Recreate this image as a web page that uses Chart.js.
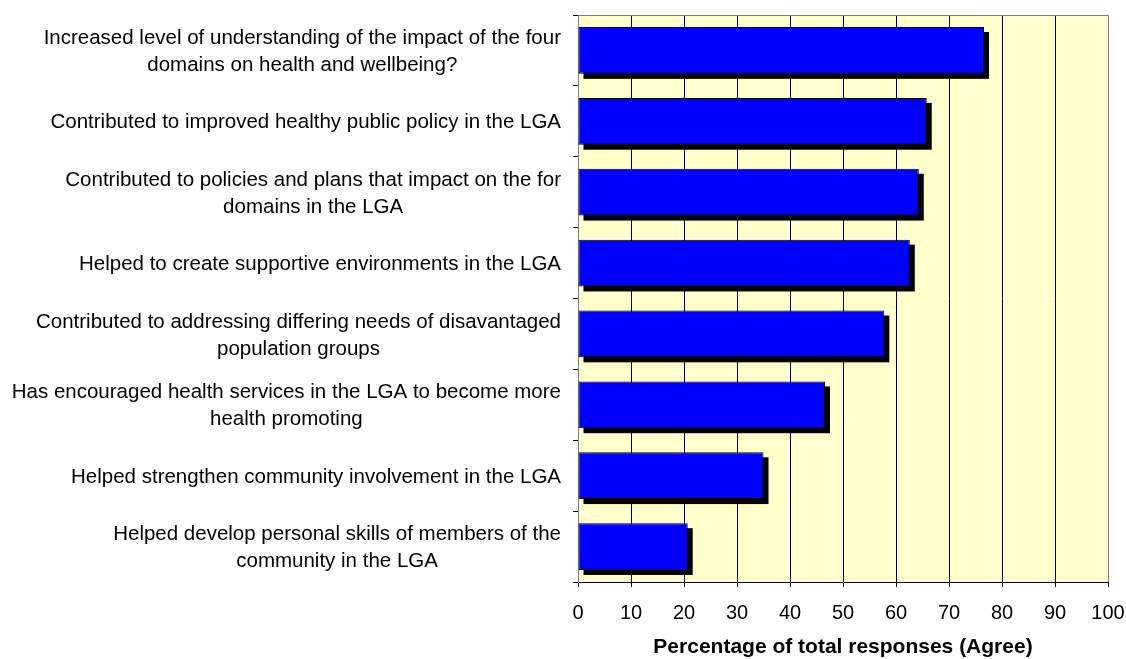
<!DOCTYPE html>
<html>
<head>
<meta charset="utf-8">
<title>Percentage of total responses (Agree)</title>
<script src="https://cdn.jsdelivr.net/npm/chart.js@4.4.1/dist/chart.umd.min.js"></script>
<style>
    html, body { margin: 0; padding: 0; background: #fff; }
    #wrap { width: 1126px; height: 659px; }
</style>
</head>
<body>
<div id="wrap"><canvas id="agreeChart" width="1126" height="659"></canvas></div>
<script>
// Categories (one entry per line of the label)
const categories = [
    ['Increased level of understanding of the impact of the four', 'domains on health and wellbeing?'],
    ['Contributed to improved healthy public policy in the LGA'],
    ['Contributed to policies and plans that impact on the for', 'domains in the LGA'],
    ['Helped to create supportive environments in the LGA'],
    ['Contributed to addressing differing needs of disavantaged', 'population groups'],
    ['Has encouraged health services in the LGA to become more', 'health promoting'],
    ['Helped strengthen community involvement in the LGA'],
    ['Helped develop personal skills of members of the', 'community in the LGA']
];

// Percentage who agreed
const agreeValues = [76.6, 65.8, 64.3, 62.6, 57.8, 46.6, 35.0, 20.7];

// X axis ticks
const xTicks = [0, 10, 20, 30, 40, 50, 60, 70, 80, 90, 100];

const axisTitle = 'Percentage of total responses (Agree)';

Chart.defaults.font.family = "'Liberation Sans', Arial, sans-serif";
Chart.defaults.color = '#000';

// Plot area background
const plotBackground = {
    id: 'plotBackground',
    beforeDraw(chart) {
        const { ctx, chartArea } = chart;
        ctx.save();
        ctx.fillStyle = '#FFFFCC';
        ctx.fillRect(chartArea.left, chartArea.top, chartArea.right - chartArea.left, chartArea.bottom - chartArea.top);
        ctx.restore();
    }
};

// Black drop shadow under the bars
const barShadow = {
    id: 'barShadow',
    beforeDatasetsDraw(chart) {
        const ctx = chart.ctx;
        const meta = chart.getDatasetMeta(0);
        ctx.save();
        ctx.fillStyle = '#000';
        meta.data.forEach(bar => {
            const { x, y, base, height } = bar.getProps(['x', 'y', 'base', 'height'], true);
            const left = Math.min(x, base);
            ctx.fillRect(left + 5, y - height / 2 + 5, Math.abs(x - base), height);
        });
        ctx.restore();
    }
};

// Top and right frame of the plot
const plotFrame = {
    id: 'plotFrame',
    afterDraw(chart) {
        const { ctx, chartArea } = chart;
        const top = Math.round(chartArea.top) + 0.5;
        const right = Math.round(chartArea.right) + 0.5;
        ctx.save();
        ctx.strokeStyle = '#808080';
        ctx.lineWidth = 1;
        ctx.beginPath();
        ctx.moveTo(chartArea.left, top);
        ctx.lineTo(right, top);
        ctx.lineTo(right, chartArea.bottom);
        ctx.stroke();
        ctx.restore();
    }
};

// Category labels: each block right aligned, its lines centred
const categoryLabels = {
    id: 'categoryLabels',
    afterDraw(chart) {
        const ctx = chart.ctx;
        const yScale = chart.scales.y;
        const rightEdge = yScale.right - 17;
        const lineHeight = 27;
        ctx.save();
        ctx.font = "20.5px 'Liberation Sans', Arial, sans-serif";
        ctx.fillStyle = '#000';
        ctx.textAlign = 'center';
        ctx.textBaseline = 'middle';
        categories.forEach((lines, i) => {
            const yMid = yScale.getPixelForValue(i) + 1.5;
            const widest = Math.max(...lines.map(l => ctx.measureText(l).width));
            const cx = rightEdge - widest / 2;
            lines.forEach((line, j) => {
                ctx.fillText(line, cx, yMid + (j - (lines.length - 1) / 2) * lineHeight);
            });
        });
        ctx.restore();
    }
};

new Chart(document.getElementById('agreeChart'), {
    type: 'bar',
    data: {
        labels: categories,
        datasets: [{
            data: agreeValues,
            backgroundColor: '#0000FF',
            borderColor: '#000',
            borderWidth: 1,
            borderSkipped: false,
            categoryPercentage: 1,
            barPercentage: 0.66
        }]
    },
    options: {
        indexAxis: 'y',
        responsive: false,
        animation: false,
        layout: { padding: { top: 15, right: 18, left: 0, bottom: 0 } },
        plugins: {
            legend: { display: false },
            tooltip: { enabled: false }
        },
        scales: {
            x: {
                position: 'bottom',
                min: 0,
                max: 100,
                afterBuildTicks: s => { s.ticks = xTicks.map(v => ({ value: v })); },
                afterFit: s => {
                    s.height = 77;
                    s.paddingLeft = 0;
                    s.paddingRight = 0;
                },
                ticks: {
                    color: '#000',
                    font: { size: 20 },
                    padding: 14,
                    autoSkip: false,
                    maxRotation: 0
                },
                grid: {
                    color: c => (c.tick && c.tick.value === 100 ? '#808080' : '#000'),
                    tickColor: '#000',
                    tickLength: 5,
                    lineWidth: 1
                },
                border: { color: '#000', width: 1 },
                title: {
                    display: true,
                    text: axisTitle,
                    color: '#000',
                    font: { size: 21, weight: 'bold', lineHeight: 1.1 },
                    padding: { top: 0, bottom: 0 }
                }
            },
            y: {
                afterFit: s => { s.width = 578; },
                ticks: { display: false },
                grid: {
                    drawOnChartArea: false,
                    drawTicks: true,
                    tickLength: 5,
                    color: '#000'
                },
                border: { color: '#808080', width: 1 }
            }
        }
    },
    plugins: [plotBackground, barShadow, plotFrame, categoryLabels]
});
</script>
</body>
</html>
